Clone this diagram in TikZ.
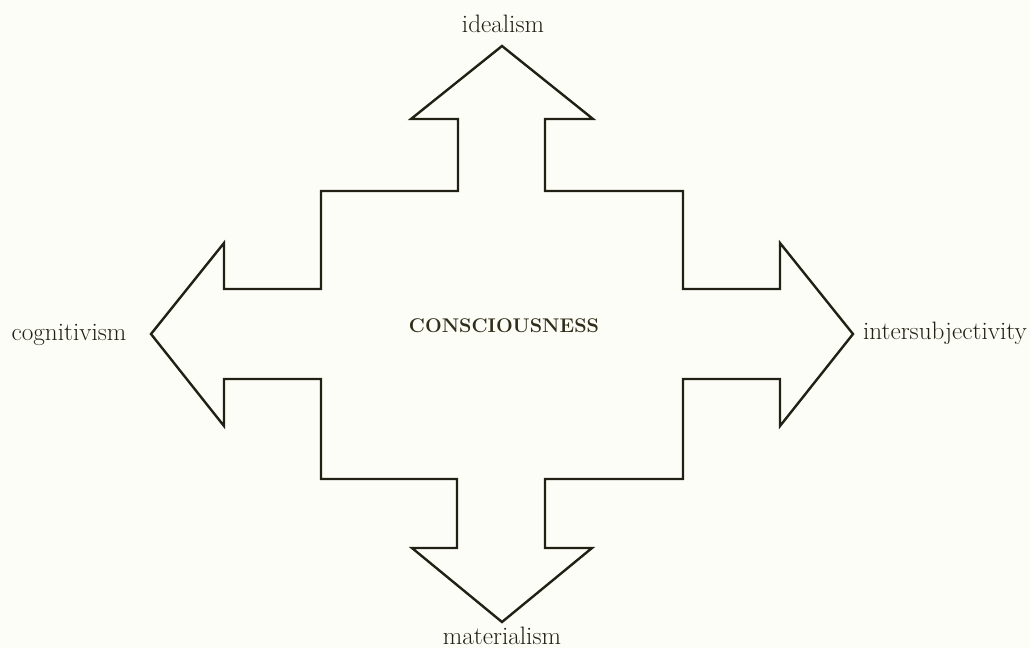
\documentclass[tikz,border=0pt]{standalone}
\usepackage{xcolor}
\definecolor{paper}{RGB}{253,253,247}
\definecolor{ink}{RGB}{32,32,20}
\definecolor{titleink}{RGB}{48,46,24}
\tikzset{
  shapeline/.style={draw=ink, line width=2.4pt, line join=miter},
  lbl/.style={text=ink, inner sep=0pt, anchor=base, font=\fontsize{25.2}{29}\selectfont},
  ttl/.style={text=titleink, inner sep=0pt, anchor=base, font=\bfseries\fontsize{19.8}{23}\selectfont}
}
\begin{document}
\begin{tikzpicture}[x=1pt,y=-1pt]
\fill[paper] (0,0) rectangle (1030,648);
\useasboundingbox (0,0) rectangle (1030,648);
\draw[shapeline] (502,46) -- (593,119) -- (545,119) -- (545,191) -- (683,191) -- (683,289)
  -- (780,289) -- (780,243) -- (853,334) -- (780,426) -- (780,379) -- (683,379)
  -- (683,479) -- (545,479) -- (545,548) -- (592,548) -- (502,622) -- (412,548)
  -- (457,548) -- (457,479) -- (321,479) -- (321,379) -- (224,379) -- (224,426)
  -- (151,334) -- (224,243) -- (224,289) -- (321,289) -- (321,191) -- (458,191)
  -- (458,119) -- (411,119) -- cycle;
\node[lbl] (ideal) at (503,32) {idealism};
\node[lbl] (mat) at (502,644) {materialism};
\node[lbl] (cog) at (69,340) {cognitivism};
\node[lbl, anchor=base east] (inter) at (1027,339) {intersubjectivity};
\node[ttl] (cons) at (504,332) {CONSCIOUSNESS};
\end{tikzpicture}
\end{document}
